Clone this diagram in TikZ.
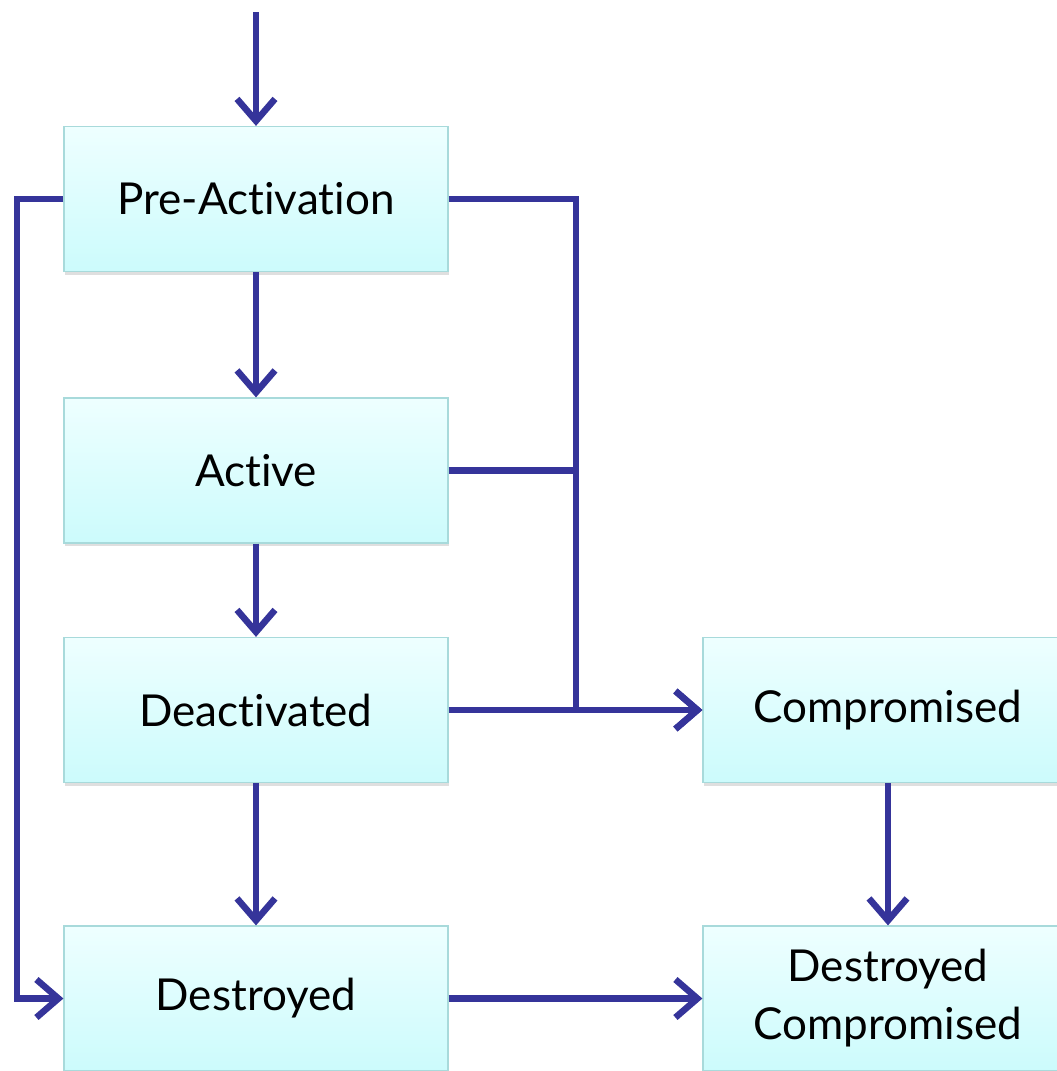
\documentclass[tikz,border=0pt]{standalone}
\usepackage{fontspec}
\setmainfont[Ligatures=NoCommon]{Lato}
\usetikzlibrary{arrows.meta,shadows}
\definecolor{arrowblue}{HTML}{35349A}
\definecolor{boxtop}{HTML}{EEFFFF}
\definecolor{boxbot}{HTML}{CCFBFC}
\definecolor{boxline}{HTML}{A8DADB}
\tikzset{
  statebox/.style={rectangle, inner sep=0pt, minimum width=384pt, minimum height=145pt,
    top color=boxtop, bottom color=boxbot, draw=boxline, line width=1.2pt,
    drop shadow={shadow xshift=1pt, shadow yshift=-3pt, opacity=0.25, fill=gray},
    font=\fontsize{44pt}{58pt}\selectfont, align=center, text=black},
  conn/.style={draw=arrowblue, line width=6.5pt},
  arr/.style={conn, -{Straight Barb[length=22pt,width=38pt,line width=6.5pt]}}
}
\begin{document}
\begin{tikzpicture}[x=1pt,y=-1pt]
\useasboundingbox (0,0) rectangle (1057,1071);
\fill[white] (0,0) rectangle (1057,1071);
\node[statebox] (pre) at (256,199) {Pre-Activation};
\node[statebox] (act) at (256,470.5) {Active};
\node[statebox] (deact) at (256,710) {Deactivated};
\node[statebox] (des) at (256,998.5) {Destroyed};
\node[statebox, minimum width=370pt] (comp) at (888,710) {Compromised};
\node[statebox, minimum width=370pt] (dcomp) at (888,998.5) {Destroyed\\Compromised};
\coordinate (start) at (256,12);
\coordinate (lx) at (17,0);
\coordinate (rx) at (576,0);
\draw[arr] (start) -- (pre.north);
\draw[arr] (pre.south) -- (act.north);
\draw[arr] (act.south) -- (deact.north);
\draw[arr] (deact.south) -- (des.north);
\draw[arr] (pre.west) -- (pre.west -| lx) |- (des.west);
\draw[conn] (act.east) -- (act.east -| rx);
\draw[arr] (pre.east) -- (pre.east -| rx) |- (comp.west);
\draw[arr] (deact.east) -- (comp.west);
\draw[arr] (comp.south) -- (dcomp.north);
\draw[arr] (des.east) -- (dcomp.west);
\end{tikzpicture}
\end{document}
